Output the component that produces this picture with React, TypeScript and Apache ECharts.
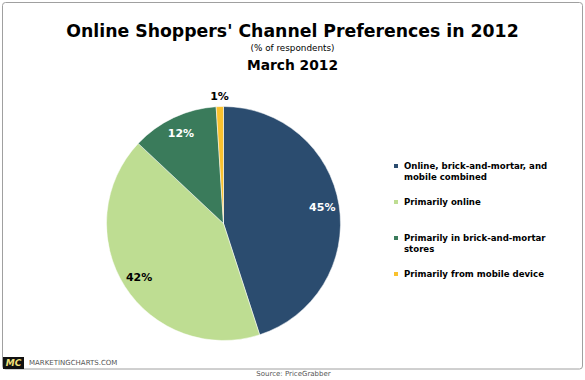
import React, { useEffect, useRef } from "react";
import * as echarts from "echarts";

const categories = [
  "Online, brick-and-mortar, and mobile combined",
  "Primarily online",
  "Primarily in brick-and-mortar stores",
  "Primarily from mobile device",
];
const legendLines: Record<string, string> = {
  "Online, brick-and-mortar, and mobile combined": "\nOnline, brick-and-mortar, and\nmobile combined",
  "Primarily online": "Primarily online",
  "Primarily in brick-and-mortar stores": "\nPrimarily in brick-and-mortar\nstores",
  "Primarily from mobile device": "Primarily from mobile device",
};
const values = [45, 42, 12, 1];
const colors = ["#2B4C6F", "#BEDD92", "#3A7B5B", "#F9C12E"];
const labelColors = ["#ffffff", "#000000", "#ffffff", "#000000"];

const FONT = "DejaVu Sans";

export default function App() {
  const ref = useRef<HTMLDivElement>(null);
  useEffect(() => {
    if (!ref.current) return;
    const chart = echarts.init(ref.current, null, { renderer: "svg" });
    const center = [223.5, 223.5];
    const R = 117;
    const realData = categories.map((name, i) => ({
      name,
      value: values[i],
      itemStyle: { color: colors[i] },
    }));
    const labelStyle = (i: number) => ({
      show: true,
      position: "inside",
      formatter: "{c}%",
      color: labelColors[i],
      fontFamily: FONT,
      fontWeight: "bold",
      fontSize: 11,
    });
    const overlayA = categories.map((name, i) => ({
      name: name + " #label",
      value: values[i],
      itemStyle: { color: "transparent" },
      label: i === 3 ? { show: false } : labelStyle(i),
    }));
    const overlayB = categories.map((name, i) => ({
      name: name + " #label2",
      value: values[i],
      itemStyle: { color: "transparent" },
      label: i === 3 ? labelStyle(i) : { show: false },
    }));
    chart.setOption({
      animation: false,
      legend: {
        data: categories,
        orient: "vertical",
        left: 392,
        top: 149.5,
        itemWidth: 6,
        itemHeight: 6,
        itemGap: 14,
        icon: "rect",
        padding: 0,
        selectedMode: false,
        formatter: (n: string) => legendLines[n] ?? n,
        textStyle: {
          fontFamily: FONT,
          fontWeight: "bold",
          fontSize: 8.6,
          lineHeight: 11,
          color: "#000",
        },
      },
      series: [
        {
          type: "pie",
          center,
          radius: [0, R],
          startAngle: 90,
          clockwise: true,
          silent: true,
          label: { show: false },
          labelLine: { show: false },
          itemStyle: { borderColor: "#ffffff", borderWidth: 0.5 },
          data: realData,
        },
        {
          type: "pie",
          center,
          radius: [77, R],
          startAngle: 90,
          clockwise: true,
          silent: true,
          avoidLabelOverlap: false,
          labelLine: { show: false },
          data: overlayA,
        },
        {
          type: "pie",
          center,
          radius: [120, 128],
          startAngle: 90,
          clockwise: true,
          silent: true,
          avoidLabelOverlap: false,
          labelLine: { show: false },
          data: overlayB,
        },
      ],
      graphic: [
        {
          type: "rect",
          shape: { x: 2.5, y: 2.5, width: 580, height: 366.5, r: 3 },
          style: { fill: "none", stroke: "#a0a0a0", lineWidth: 1 },
          silent: true,
        },
        {
          type: "text",
          x: 292.5,
          y: 30.5,
          style: {
            text: "Online Shoppers' Channel Preferences in 2012",
            fontFamily: FONT,
            fontWeight: "bold",
            fontSize: 17.3,
            fill: "#000",
            textAlign: "center",
            textVerticalAlign: "middle",
          },
        },
        {
          type: "text",
          x: 292.5,
          y: 48,
          style: {
            text: "(% of respondents)",
            fontFamily: FONT,
            fontSize: 8.8,
            fill: "#000",
            textAlign: "center",
            textVerticalAlign: "middle",
          },
        },
        {
          type: "text",
          x: 292.5,
          y: 64.5,
          style: {
            text: "March 2012",
            fontFamily: FONT,
            fontWeight: "bold",
            fontSize: 13.8,
            fill: "#000",
            textAlign: "center",
            textVerticalAlign: "middle",
          },
        },
        {
          type: "rect",
          shape: { x: 3, y: 357, width: 21, height: 12 },
          style: { fill: "#111" },
        },
        {
          type: "text",
          x: 13.5,
          y: 363,
          style: {
            text: "MC",
            fontFamily: FONT,
            fontWeight: "bold",
            fontStyle: "italic",
            fontSize: 9,
            fill: "#F3E27A",
            textAlign: "center",
            textVerticalAlign: "middle",
          },
        },
        {
          type: "text",
          x: 29,
          y: 363,
          style: {
            text: "MARKETINGCHARTS.COM",
            fontFamily: FONT,
            fontSize: 7,
            fill: "#555",
            textAlign: "left",
            textVerticalAlign: "middle",
          },
        },
        {
          type: "text",
          x: 293.5,
          y: 374,
          style: {
            text: "Source: PriceGrabber",
            fontFamily: FONT,
            fontSize: 7,
            fill: "#555",
            textAlign: "center",
            textVerticalAlign: "middle",
          },
        },
      ],
    });
    return () => chart.dispose();
  }, []);
  return (
    <div
      ref={ref}
      style={{ width: 585, height: 380, position: "absolute", left: 0, top: 0, background: "#fff" }}
    />
  );
}
